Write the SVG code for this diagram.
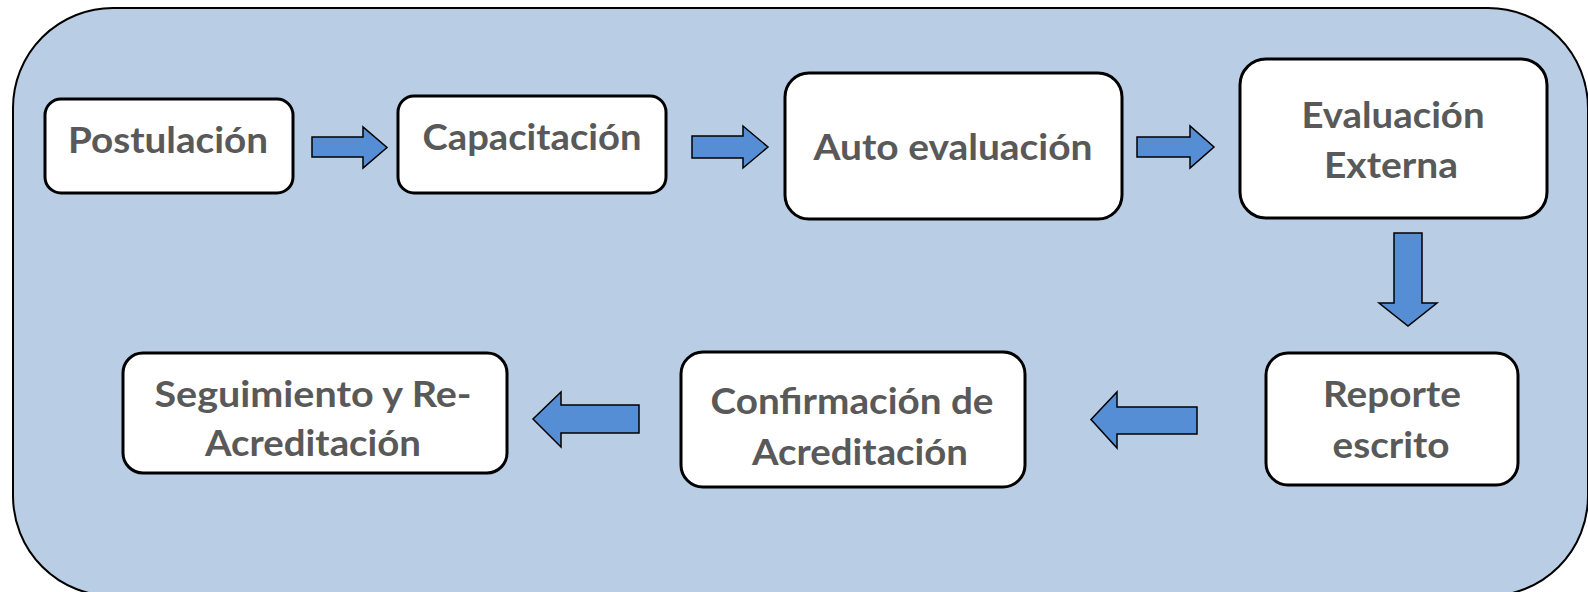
<svg xmlns="http://www.w3.org/2000/svg" width="1588" height="592" viewBox="0 0 1588 592">
<style>
.bg{fill:#B9CDE5;stroke:#000;stroke-width:2}
.box{fill:#FFFFFF;stroke:#000;stroke-width:3}
.arr{fill:#558ED5;stroke:#000;stroke-width:1.5;stroke-linejoin:miter}
.t{font-family:Lato,"Open Sans","Liberation Sans",sans-serif;font-weight:700;font-size:36px;fill:#595959;text-anchor:middle}
</style>
<rect width="1588" height="592" fill="#FFFFFF"/>
<rect id="panel" class="bg" x="13" y="8" width="1575" height="588" rx="100" ry="100"/>
<g id="connectors">
<polygon class="arr" points="312,137 363,137 363,127 387,147.5 363,168 363,157 312,157"/>
<polygon class="arr" points="692,136 743,136 743,126 768,147 743,168 743,158 692,158"/>
<polygon class="arr" points="1137,137 1190,137 1190,126 1214,147 1190,168 1190,157 1137,157"/>
<polygon class="arr" points="1394,233 1422,233 1422,303 1437,303 1408,326 1379,303 1394,303"/>
<polygon class="arr" points="1197,407 1117,407 1117,392 1091,419.5 1117,448 1117,434 1197,434"/>
<polygon class="arr" points="639,405 561,405 561,392 533,419 561,447 561,433 639,433"/>
</g>
<g id="n1">
<rect class="box" x="45" y="99" width="248" height="94" rx="16"/>
<text class="t" x="168" y="153" textLength="200" lengthAdjust="spacingAndGlyphs">Postulación</text>
</g>
<g id="n2">
<rect class="box" x="398" y="96" width="268" height="97" rx="16"/>
<text class="t" x="532" y="150" textLength="219" lengthAdjust="spacingAndGlyphs">Capacitación</text>
</g>
<g id="n3">
<rect class="box" x="785" y="73" width="337" height="146" rx="24"/>
<text class="t" x="953" y="160" textLength="279" lengthAdjust="spacingAndGlyphs">Auto evaluación</text>
</g>
<g id="n4">
<rect class="box" x="1240" y="59" width="307" height="159" rx="26"/>
<text class="t" x="1393" y="128" textLength="183" lengthAdjust="spacingAndGlyphs">Evaluación</text>
<text class="t" x="1391" y="178" textLength="134" lengthAdjust="spacingAndGlyphs">Externa</text>
</g>
<g id="n5">
<rect class="box" x="1266" y="353" width="252" height="132" rx="22"/>
<text class="t" x="1392" y="407" textLength="138" lengthAdjust="spacingAndGlyphs">Reporte</text>
<text class="t" x="1391" y="458" textLength="117" lengthAdjust="spacingAndGlyphs">escrito</text>
</g>
<g id="n6">
<rect class="box" x="681" y="352" width="344" height="135" rx="22"/>
<text class="t" x="852" y="414" textLength="283" lengthAdjust="spacingAndGlyphs">Confirmación de</text>
<text class="t" x="860" y="465" textLength="216" lengthAdjust="spacingAndGlyphs">Acreditación</text>
</g>
<g id="n7">
<rect class="box" x="123" y="353" width="384" height="120" rx="20"/>
<text class="t" x="313" y="407" textLength="317" lengthAdjust="spacingAndGlyphs">Seguimiento y Re-</text>
<text class="t" x="313" y="456" textLength="216" lengthAdjust="spacingAndGlyphs">Acreditación</text>
</g>
</svg>
